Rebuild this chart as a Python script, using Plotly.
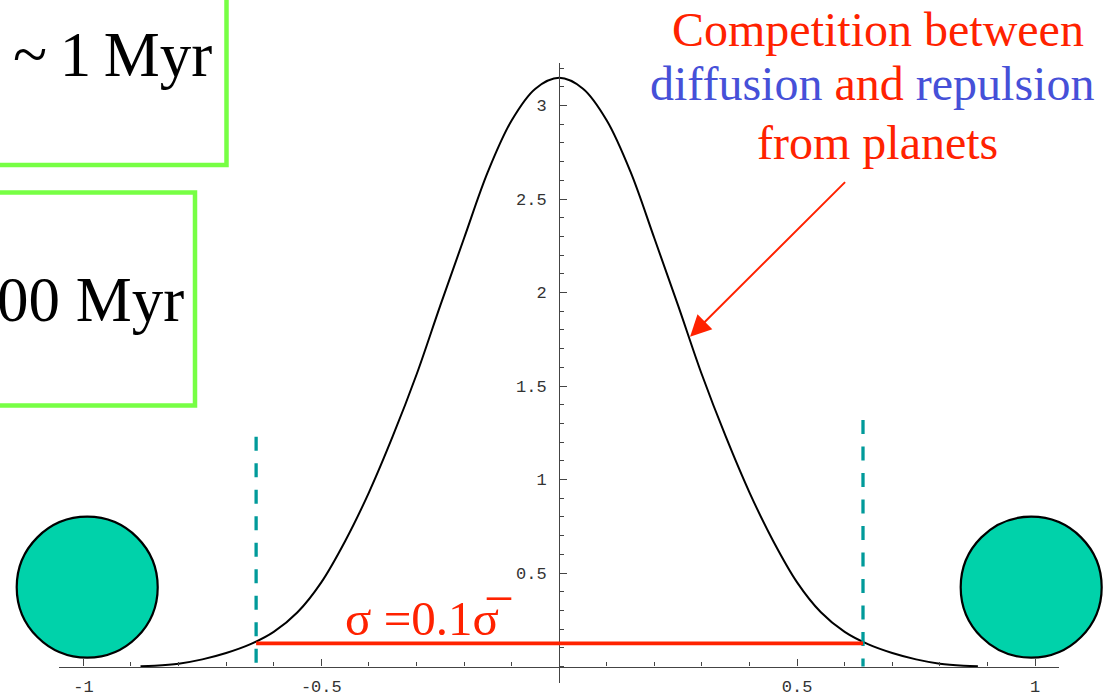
import plotly.graph_objects as go

W, H = 1113, 698

# surface-density profile of the ring between the two planets
ring_x = [-0.88, -0.85, -0.80, -0.75, -0.70, -0.65, -0.60, -0.55, -0.50, -0.45,
          -0.40, -0.35, -0.30, -0.25, -0.20, -0.15, -0.10, -0.05, 0.0,
          0.05, 0.10, 0.15, 0.20, 0.25, 0.30, 0.35, 0.40, 0.45, 0.50,
          0.55, 0.60, 0.65, 0.70, 0.75, 0.80, 0.85, 0.88]
ring_y = [0.001, 0.004, 0.015, 0.038, 0.072, 0.118, 0.185, 0.29, 0.45, 0.67,
          0.93, 1.23, 1.56, 1.93, 2.29, 2.645, 2.92, 3.09, 3.148,
          3.09, 2.92, 2.645, 2.29, 1.93, 1.56, 1.23, 0.93, 0.67, 0.45,
          0.29, 0.185, 0.118, 0.072, 0.038, 0.015, 0.004, 0.001]

x_ticks = [-1, -0.5, 0.5, 1]
x_tick_text = ["-1", "-0.5", "0.5", "1"]
y_ticks = [0.5, 1, 1.5, 2, 2.5, 3]
y_tick_text = ["0.5", "1", "1.5", "2", "2.5", "3"]

# width of the ring at sigma = 0.1 * mean sigma
sigma_level = 0.124
cut_x = [-0.637, 0.6385]
dash_top = [1.229, 1.318]

# planets on either side of the ring
planet_x = [-0.992, 0.992]
planet_y = [0.424, 0.424]

# arrow from the caption to the profile
arrow_tip = (0.275, 1.764)
arrow_tail = (0.604, 2.598)

RED = "#FF2200"
BLUE = "#4650D8"
TEAL = "#009A9A"
GREEN = "#77FF44"
AXIS = "#444444"
SERIF = "Liberation Serif, Times New Roman, serif"
MONO = "Liberation Mono, Courier New, monospace"

# pixel geometry of the drawn axes
px_x0, px_unit_x = 559.2, 475.8
px_y0, px_unit_y = 666.5, 187.0


def xr(px):
    return (px - px_x0) / px_unit_x


def yr(py):
    return (px_y0 - py) / px_unit_y


def pfx(px):
    return px / W


def pfy(py):
    return 1 - py / H


fig = go.Figure()

fig.add_trace(go.Scatter(
    x=ring_x, y=ring_y, mode="lines", line=dict(color="black", width=2, shape="spline"),
    xaxis="x", yaxis="y", hoverinfo="skip", showlegend=False))

for cx, top in zip(cut_x, dash_top):
    fig.add_trace(go.Scatter(
        x=[cx, cx], y=[top, 0], mode="lines",
        line=dict(color=TEAL, width=3.3, dash="14px,12.5px"),
        xaxis="x2", yaxis="y2", hoverinfo="skip", showlegend=False))

fig.add_trace(go.Scatter(
    x=cut_x, y=[sigma_level, sigma_level], mode="lines",
    line=dict(color=RED, width=3.8),
    xaxis="x2", yaxis="y2", hoverinfo="skip", showlegend=False))

fig.add_trace(go.Scatter(
    x=planet_x, y=planet_y, mode="markers",
    marker=dict(size=141, color="#00D2AA", line=dict(color="black", width=2.2)),
    xaxis="x2", yaxis="y2", hoverinfo="skip", showlegend=False))

minor_style = dict(ticks="inside", ticklen=4, tickwidth=1, tickcolor=AXIS,
                   tickmode="linear", tick0=0, dtick=0.1, showgrid=False)
tick_font = dict(family=MONO, size=17, color="#333333")

fig.update_layout(
    width=W, height=H,
    margin=dict(l=0, r=0, t=0, b=0),
    paper_bgcolor="white", plot_bgcolor="rgba(0,0,0,0)",
    showlegend=False,
    xaxis=dict(
        domain=[pfx(59), pfx(1059)], range=[xr(59), xr(1059)],
        anchor="free", position=pfy(px_y0),
        showline=True, linecolor=AXIS, linewidth=1.2,
        ticks="inside", ticklen=7, tickwidth=1, tickcolor=AXIS,
        tickmode="array", tickvals=x_ticks, ticktext=x_tick_text,
        tickfont=tick_font, ticklabelstandoff=4,
        minor=minor_style, showgrid=False, zeroline=False, fixedrange=True),
    yaxis=dict(
        domain=[pfy(683), pfy(63)], range=[yr(683), yr(63)],
        anchor="free", position=pfx(px_x0), side="left",
        showline=True, linecolor=AXIS, linewidth=1.2,
        ticks="inside", ticklen=7, tickwidth=1, tickcolor=AXIS,
        tickmode="array", tickvals=y_ticks, ticktext=y_tick_text,
        tickfont=tick_font, ticklabelstandoff=9,
        minor=minor_style, showgrid=False, zeroline=False, fixedrange=True),
    xaxis2=dict(domain=[0, 1], range=[xr(0), xr(W)], anchor="y2", visible=False,
                fixedrange=True),
    yaxis2=dict(domain=[0, 1], range=[yr(H), yr(0)], anchor="x2", visible=False,
                fixedrange=True),
)

# framed time-scale boxes
fig.add_shape(type="rect", xref="paper", yref="paper",
              x0=pfx(-20), x1=pfx(226.5), y0=pfy(165), y1=pfy(-20),
              line=dict(color=GREEN, width=4.5), fillcolor="rgba(0,0,0,0)")
fig.add_shape(type="rect", xref="paper", yref="paper",
              x0=pfx(-20), x1=pfx(195), y0=pfy(405.5), y1=pfy(192.5),
              line=dict(color=GREEN, width=4.5), fillcolor="rgba(0,0,0,0)")


def text(px, py, s, size, color="black", xanchor="center"):
    fig.add_annotation(x=pfx(px), y=pfy(py), xref="paper", yref="paper",
                       text=s, showarrow=False, xanchor=xanchor, yanchor="middle",
                       font=dict(family=SERIF, size=size, color=color))


text(214, 55, "~\u20091\u2009Myr", 63, xanchor="right")
text(186, 300, "00 Myr", 63, xanchor="right")

text(878, 29, "Competition between", 48, RED)
text(871.5, 84, f"<span style='color:{BLUE}'>diffusion</span> and "
                f"<span style='color:{BLUE}'>repulsion</span>", 48, RED)
text(877.5, 142, "from planets", 48, RED)

text(428, 618, "\u03c3 =0.1\u03c3\u0305", 49, RED)

fig.add_annotation(x=arrow_tip[0], y=arrow_tip[1], xref="x2", yref="y2",
                   ax=arrow_tail[0], ay=arrow_tail[1], axref="x2", ayref="y2",
                   text="", showarrow=True, arrowhead=2, arrowsize=2.1,
                   arrowwidth=2, arrowcolor=RED, standoff=0)

fig.write_html("out.html")
